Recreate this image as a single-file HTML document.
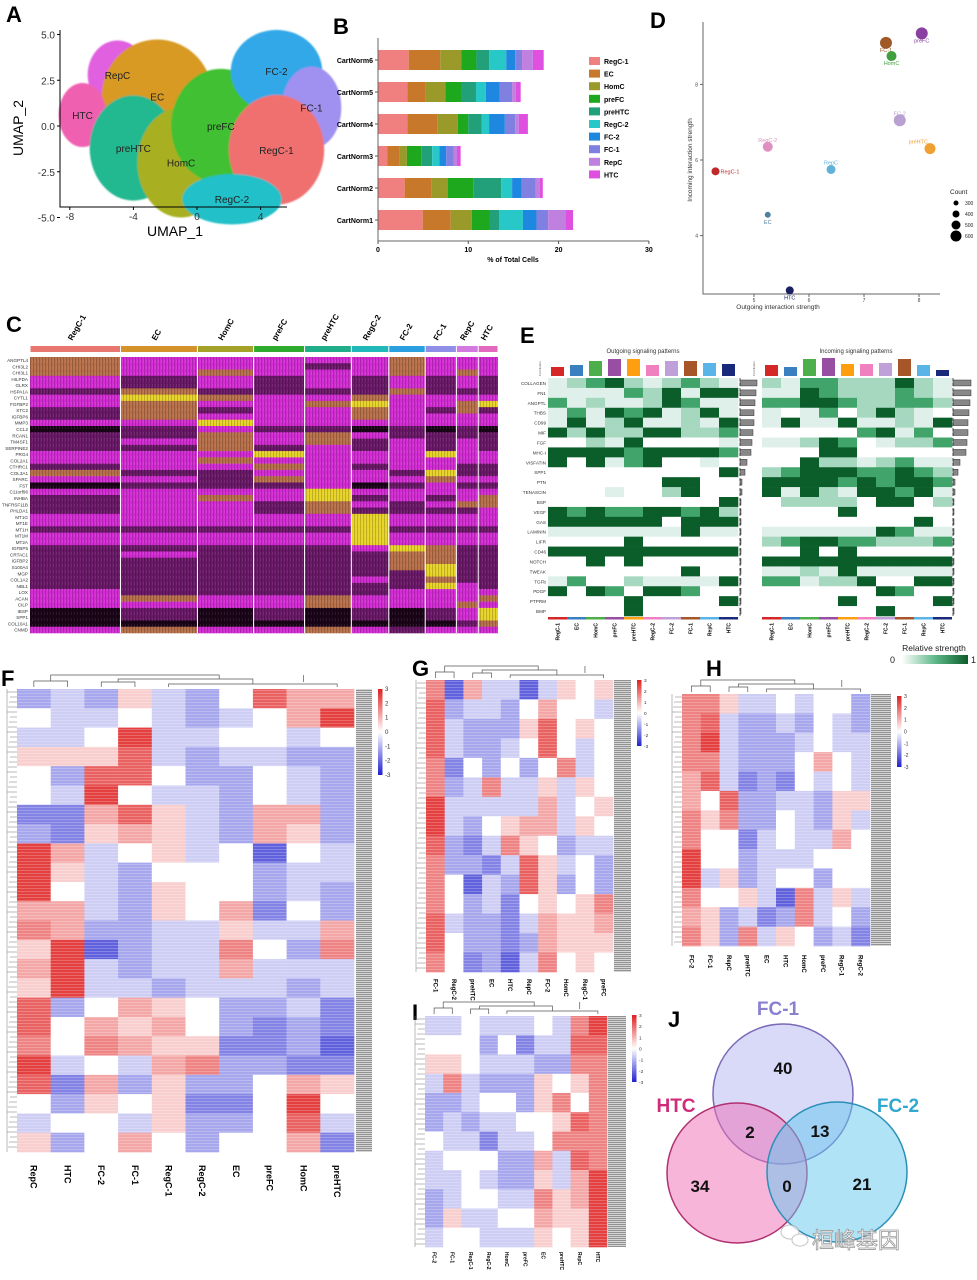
<!DOCTYPE html>
<html><head><meta charset="utf-8">
<style>
html,body{margin:0;padding:0;background:#fff;}
svg{display:block;font-family:"Liberation Sans","Noto Sans CJK SC",sans-serif;}
.pl{font-size:22px;font-weight:bold;}
</style></head>
<body>
<svg id="fig" xmlns="http://www.w3.org/2000/svg" width="977" height="1280" viewBox="0 0 977 1280">
<defs>
<pattern id="vstripe" width="3" height="6" patternUnits="userSpaceOnUse"><rect x="0" y="0" width="1" height="6" fill="#000" opacity="0.18"/><rect x="2" y="0" width="1" height="3" fill="#fff" opacity="0.08"/></pattern>
<pattern id="hstripe" width="10" height="3" patternUnits="userSpaceOnUse"><rect x="0" y="0" width="10" height="1" fill="#fff" opacity="0.22"/></pattern>
<pattern id="lblstripe" width="6" height="2" patternUnits="userSpaceOnUse"><rect width="6" height="1" fill="#777"/><rect y="1" width="6" height="1" fill="#ccc"/></pattern>
<linearGradient id="rbgrad" x1="0" y1="0" x2="0" y2="1"><stop offset="0" stop-color="#e02020"/><stop offset="0.5" stop-color="#ffffff"/><stop offset="1" stop-color="#2020d0"/></linearGradient>
<linearGradient id="ggrad" x1="0" y1="0" x2="1" y2="0"><stop offset="0" stop-color="#ffffff"/><stop offset="0.5" stop-color="#5fb88a"/><stop offset="1" stop-color="#0b5d2a"/></linearGradient>
<filter id="soft"><feGaussianBlur stdDeviation="0.9"/></filter>
</defs>
<text class="pl" x="6" y="22">A</text>
<text class="pl" x="333" y="34">B</text>
<text class="pl" x="650" y="28">D</text>
<text class="pl" x="6" y="332">C</text>
<text class="pl" x="520" y="343">E</text>
<text class="pl" x="1" y="686">F</text>
<text class="pl" x="412" y="676">G</text>
<text class="pl" x="706" y="676">H</text>
<text class="pl" x="412" y="1020">I</text>
<text class="pl" x="668" y="1027">J</text>
<g id="gA"></g>
<g id="gB"></g>
<g id="gD"></g>
<g id="gC"></g>
<g id="gE"></g>
<g id="gF"></g>
<g id="gG"></g>
<g id="gH"></g>
<g id="gI"></g>
<g id="gJ"></g>
</svg>
<script>
// ---------- Panel A data ----------
const umapClusters = ["RepC","EC","HTC","preHTC","HomC","preFC","FC-2","FC-1","RegC-1","RegC-2"];
const umapCx = [-5,-2.5,-7.2,-4,-1,1.5,5,7.2,5,2.2];
const umapCy = [2.8,1.6,0.6,-1.2,-2,0,3,1,-1.3,-4];
const umapRx = [1.5,2.8,1.2,2.2,2.2,2.5,2.3,1.5,2.4,2.5];
const umapRy = [1.5,2.5,1.4,2.3,2.4,2.5,1.8,1.8,2.4,1.1];
const umapColors = ["#e060e0","#d89a20","#f060b0","#20b890","#a8b020","#40c030","#30a8e8","#a090f0","#f07070","#20c0c8"];
const umapXTicks = [-8,-4,0,4];
const umapYTicks = ["5.0","2.5","0.0","-2.5","-5.0"];
// ---------- Panel B data ----------
const bSamples = ["CartNorm6","CartNorm5","CartNorm4","CartNorm3","CartNorm2","CartNorm1"];
const bCellTypes = ["RegC-1","EC","HomC","preFC","preHTC","RegC-2","FC-2","FC-1","RepC","HTC"];
const bColors = ["#f08080","#c8782a","#9a9a2a","#1ea81e","#22a07a","#28c8c8","#1e88e0","#8080e0","#c080e0","#e050e0"];
const bRegC1 = [3.4,3.25,3.25,1.05,2.95,4.95];
const bEC = [3.5,2.0,3.3,1.35,3.0,3.1];
const bHomC = [2.35,2.2,2.3,0.8,1.8,2.35];
const bPreFC = [1.65,1.8,1.15,1.6,2.8,1.95];
const bPreHTC = [1.4,1.6,1.5,1.2,3.1,1.05];
const bRegC2 = [1.9,1.1,0.8,0.8,1.2,2.65];
const bFC2 = [1.0,1.5,1.75,0.75,1.05,1.5];
const bFC1 = [0.75,1.4,1.15,0.85,1.55,1.3];
const bRepC = [1.2,0.4,0.4,0.35,0.45,1.9];
const bHTC = [1.2,0.55,1.0,0.4,0.35,0.85];
const bXTicks = [0,10,20,30];
// ---------- Panel D data ----------
const dCells = ["RegC-1","RegC-2","EC","HTC","RepC","FC-1","HomC","preFC","FC-2","preHTC"];
const dOutgoing = [4.3,5.25,5.25,5.65,6.4,7.4,7.5,8.05,7.65,8.2];
const dIncoming = [5.7,6.35,4.55,2.55,5.75,9.1,8.75,9.35,7.05,6.3];
const dCount = [350,450,250,350,400,550,450,550,550,500];
const dColors = ["#c0282a","#e090c0","#5080a0","#1a2060","#60b0d8","#a05a28","#40a040","#8a40a0","#b8a0d0","#f0a030"];
const dXTicks = [5,6,7,8];
const dYTicks = [4,6,8];
const dLegendCounts = [300,400,500,600];
// ---------- Panel C data ----------
const cGroups = ["RegC-1","EC","HomC","preFC","preHTC","RegC-2","FC-2","FC-1","RepC","HTC"];
const cGroupColors = ["#e8776f","#d4932a","#a5a22a","#2eaa2e","#20ae8a","#20b8b8","#2aa0e0","#8f8fe8","#d27ae0","#e268c0"];
const cGroupSizes = [87,74,54,49,45,36,35,30,21,19];
const cGenes = ["ANGPTL4","CHI3L2","CHI3L1","HILPDA","GLRX","HSPA1A","CYTL1","FGFBP2","STC2","IGFBP6","MMP3","CCL2","RCAN1","TM4SF1","SERPINE2","PRG4","COL2A1","CTHRC1","COL3A1","SPARC","FST","C11orf96","INHBA","TNFRSF11B","PHLDA1","MT1G","MT1E","MT1H","MT1M","MT2A","IGFBP5","CRTAC1","IGFBP2","S100A4","MGP","COL1A2","NBL1","LOX","ACAN","CILP","IBSP","SPP1","COL10A1","CNMD"];
const cLevels = ["3222223222","3222123222","3232223232","2121212121","2121212121","1311113111","2432232222","2322342234","1312232131","1322232222","2242222222","0121101010","1132321111","1232312121","1131212121","2224222422","2232222222","1223212211","3112221411","2213222322","0111201211","2222422222","1232412123","1221321233","1221311112","2222242222","2222242222","1111141111","2222242222","2222242222","1111124311","1211113311","1111113311","1111113411","1111111411","1111121311","1111111421","2111112222","2322322223","2222322232","0101010124","0101010124","0000000013","2322321222"];
const cPalette = ["#1a0418","#6a1868","#d42cd4","#b8704a","#e8d428"];
// ---------- Panel E data ----------
const eGroups = ["RegC-1","EC","HomC","preFC","preHTC","RegC-2","FC-2","FC-1","RepC","HTC"];
const eGroupColors = ["#d62728","#3a7fc0","#4daf4a","#984ea3","#ff9f10","#f080c0","#c0a0d8","#a65628","#5ab4e8","#1a2a7a"];
const ePathways = ["COLLAGEN","FN1","ANGPTL","THBS","CD99","MIF","FGF","MHC-I","VISFATIN","SPP1","PTN","TENASCIN","BSP","VEGF","GAS","LAMININ","LIFR","CD46","NOTCH","TWEAK","TGFb","PDGF","PTPRM","BMP"];
const eOut = ["1234212321","1111324144","3121124311","1314341241","1412411214","4242244223","0021400001","4444344443","4041340010","0000000004","0000004400","0001002400","0000000004","4343344342","4444440444","1111111411","0000400000","4444444444","0040400000","0000000400","1300211114","4043044300","0000400004","0000400000"];
const eIn = ["2133222421","1143222321","3344322332","1013024210","1411411214","0000034130","1124301223","0004400000","0042212311","2344433432","4444343443","4142144341","0222204402","0000400000","0000000040","1111114311","2344332223","0040400000","4444444444","1121411111","3312240044","0000004300","0000400004","0000004000"];
const eOutTop = [9,11,15,17,17,11,15,15,13,12];
const eInTop = [11,9,17,18,12,12,13,17,11,6];
const eOutSide = [17,16,15,14,14,13,12,11,7,5,2,2,1,1,1,1,1,1,1,1,1,1,1,1];
const eInSide = [18,18,17,16,15,15,14,13,7,5,2,2,1,1,1,1,1,1,1,1,1,1,1,1];
const ePalette = ["#ffffff","#dff0ea","#a6d8c0","#41a46a","#0b5d2a"];
// ---------- Panels F,G,H,I data ----------
const fCols = ["RepC","HTC","FC-2","FC-1","RegC-1","RegC-2","EC","preFC","HomC","preHTC"];
const fValues = [
[-1,-0.5,-1,0.5,-0.5,-1,0,2,1,1],[0,-0.5,-0.5,0,-0.5,-1,-0.5,0,1,2.5],[-0.5,-0.5,0,2.5,-0.5,-0.5,0,0,-0.5,0],
[0.5,0.5,0.5,2,-0.5,-1,-0.5,-0.5,-1,-1],[0,-1,2,2,0,-1,-1,0,-0.5,-1],[0,-0.5,2.5,0,-0.5,-0.5,-1,0,-0.5,-1],
[-1.5,-1.5,1,2,0.5,-0.5,-1,1,1,-1],[-1,-1.5,0.5,1,0.5,-0.5,-1,1,0.5,-1],[2.5,1,-0.5,0,0.5,-0.5,0,-2,0,-0.5],
[2.5,0.5,-0.5,-1,0,0,0,-1,-0.5,-0.5],[2.5,0,-0.5,-1,0.5,0,0,-1,-0.5,-1],[1,1,-0.5,-1,0.5,0,1,-1.5,0,-1],
[1.5,1,-1,-1,-0.5,-0.5,0.5,-0.5,-0.5,1],[0.5,2.5,-2,-1,-0.5,-0.5,1.5,0,-1,1.5],[1,2.5,-0.5,-1,-0.5,-0.5,1,-0.5,-0.5,-0.5],
[0.5,2.5,-0.5,-0.5,-1,-0.5,-0.5,-0.5,-1,-0.5],[2,-1,0,1,0.5,0,-1,-1,-0.5,-1.5],[2,0,1,0.5,1,0,-1,-1.5,-1,-1.5],
[1.5,0,1.5,1,0.5,0.5,-1.5,-1.5,-1,-2],[2.5,-0.5,0,-0.5,1,1.5,-1,-1,-1.5,-1.5],[2,-1.5,1,-1,0.5,-1,-1,0,1,0.5],
[0,-1,0.5,0,0.5,-1.5,-1.5,0,2.5,0],[-0.5,0,0,-0.5,0.5,-1,-1,0,2,-0.5],[0.5,-1,0,1,0,-1,0,0,1,-1.5]];
const gCols = ["FC-1","RegC-2","preHTC","EC","HTC","RepC","FC-2","HomC","RegC-1","preFC"];
const gValues = [
[1.5,-2,1,-0.5,-0.5,-2,-0.5,0.5,0,0.5],[2,-1,-0.5,-0.5,-1,0,1,0,0,-0.5],[2,-0.5,-1,-1,-1,0.5,2,0,0.5,0],
[2,-0.5,-1,-1,-0.5,0,2,0,-0.5,0],[1.5,-1.5,0,-1,0,-1,0,1.5,-0.5,0],[1.5,-1,-0.5,1.5,-0.5,-0.5,0.5,-0.5,0.5,0],
[2.5,-0.5,-0.5,-0.5,-0.5,-0.5,1,-0.5,0,0.5],[2.5,-0.5,-1,0,0.5,1,1,-0.5,0.5,0],[2,-1,-1.5,-0.5,1.5,0.5,0,-1,-0.5,-0.5],
[1.5,-1,-1,-1.5,-0.5,2,0.5,-0.5,0,-1],[1.5,0,-2,-0.5,-1,2,0.5,-1,0,-1],[1.5,0,-1,-0.5,-1.5,0,0.5,0,0.5,1.5],
[2,-0.5,-1,-1,-1.5,-0.5,1,0.5,0.5,1],[2,0,-1,-1,-1.5,-1,1,0.5,0.5,0.5],[1.5,0,-1.5,-1,-2,-0.5,1.5,0,0.5,0]];
const hCols = ["FC-2","FC-1","RepC","preHTC","EC","HTC","HomC","preFC","RegC-1","RegC-2"];
const hValues = [
[1.5,1.5,0.5,-0.5,-0.5,0,-0.5,0,0,-1],[1.5,2,-0.5,-1,-1,-0.5,-1,0,-0.5,-1],[1.5,2.5,-0.5,-1,-1,-1,-0.5,0,-0.5,-0.5],
[1.5,1.5,-0.5,-1,-1,-1,0,1,0,-0.5],[1,2,-0.5,-1.5,-1,-1.5,0,-0.5,0,-0.5],[1,0,2,-1,-1,-0.5,-0.5,-1,0.5,0.5],
[1.5,0.5,1.5,-1,-1,0,-0.5,-1,0.5,-0.5],[1.5,0,0,-1.5,-0.5,0,-0.5,-0.5,1,0],[2.5,0,0,-1,-0.5,-0.5,-0.5,0,0,0],
[2.5,-0.5,0.5,-1,-0.5,0,0,-1,0,0],[1.5,0,0,0.5,-0.5,-2,1.5,-0.5,0.5,-0.5],[1,0.5,-1,-0.5,-1.5,-1,1.5,-0.5,0,-1],
[1.5,0.5,-1,1.5,-0.5,0.5,0,-1,-0.5,-1.5]];
const iCols = ["FC-2","FC-1","RegC-1","RegC-2","HomC","preFC","EC","preHTC","RepC","HTC"];
const iValues = [
[-0.5,-0.5,0,-0.5,-0.5,-0.5,0,-0.5,1.5,2.5],[0,0,0,-1,0,-1.5,-0.5,-0.5,2,2],[0.5,0.5,0,-0.5,-0.5,-0.5,-1,-1,1.5,1.5],
[-0.5,1.5,-0.5,-1,-1,-1,0.5,0,0.5,1.5],[-1,-1,-0.5,0,0,-1,0.5,1.5,0,1.5],[-1,-0.5,-1,-0.5,-0.5,0,0,0.5,2,1.5],
[0,-0.5,-0.5,-1.5,-0.5,-0.5,0,1.5,1.5,1.5],[-0.5,0,0,0,-1,-1,1,-0.5,2,1.5],[-0.5,-0.5,0,-0.5,-1,-1,0.5,-0.5,1,2.5],
[-1,-0.5,0,0,-0.5,-0.5,1.5,0.5,1,2.5],[-1,0.5,-0.5,-0.5,0,0,1,0.5,0.5,2.5],[-0.5,0,0,-0.5,-0.5,-0.5,0.5,0,0.5,2.5]];
const legendTicks = [3,2,1,0,-1,-2,-3];
// ---------- Panel J data ----------
const vennSets = ["FC-1","HTC","FC-2"];
const vennCounts = [40,34,21,2,13,0];

// ---------- helpers ----------
const NS="http://www.w3.org/2000/svg";
function mk(tag,attrs,parent){const e=document.createElementNS(NS,tag);for(const k in attrs)e.setAttribute(k,attrs[k]);parent.appendChild(e);return e;}
function txt(str,attrs,parent){const e=mk('text',attrs,parent);e.textContent=str;return e;}
function lerp(a,b,t){return Math.round(a+(b-a)*t);}
function rb(v){let t=Math.max(-1,Math.min(1,v/3));const s0=Math.sign(t)*Math.pow(Math.abs(t),0.85);t=s0;if(t>=0)return `rgb(${lerp(255,224,t)},${lerp(255,32,t)},${lerp(255,32,t)})`;const s=-t;return `rgb(${lerp(255,32,s)},${lerp(255,32,s)},${lerp(255,208,s)})`;}

// ---------- Panel A ----------
(function(){
const g=document.getElementById('gA');
const sx=x=>197+x*15.9, sy=y=>126-y*18.3;
const K=1.25;
const cl=mk('g',{filter:'url(#soft)'},g);


umapClusters.forEach((n,i)=>{
 const e=mk('ellipse',{cx:sx(umapCx[i]),cy:sy(umapCy[i]),rx:umapRx[i]*15.9*K,ry:umapRy[i]*18.3*K,fill:umapColors[i]},cl);
 
 
});
umapClusters.forEach((n,i)=>{
 const t=txt(n,{x:sx(umapCx[i]),y:sy(umapCy[i])+4,'font-size':10,'text-anchor':'middle',fill:'#222'},g);
 
 
});
const ax=mk('path',{d:'M60 30 V207 H287',stroke:'#000','stroke-width':1,fill:'none'},g);


umapXTicks.forEach(v=>{
 mk('line',{x1:sx(v),x2:sx(v),y1:207,y2:210,stroke:'#000'},g);
 const t=txt(String(v),{x:sx(v),y:220,'font-size':10,'text-anchor':'middle',fill:'#333'},g);
 
 
});
umapYTicks.forEach(v=>{
 const y=sy(parseFloat(v));
 mk('line',{x1:57,x2:60,y1:y,y2:y,stroke:'#000'},g);
 const t=txt(v,{x:55,y:y+4,'font-size':10,'text-anchor':'end',fill:'#333'},g);
 
 
});
const xt=txt('UMAP_1',{x:175,y:236,'font-size':14,'text-anchor':'middle'},g);


const yt=txt('UMAP_2',{x:0,y:0,'font-size':14,'text-anchor':'middle',transform:'translate(23,128) rotate(-90)'},g);


})();

// ---------- Panel B ----------
(function(){
const g=document.getElementById('gB');
const sx=v=>378+v*9.03;
const series=[bRegC1,bEC,bHomC,bPreFC,bPreHTC,bRegC2,bFC2,bFC1,bRepC,bHTC];
bSamples.forEach((s,i)=>{
 const cy=60+i*32;
 let acc=0;
 series.forEach((arr,k)=>{
  const r=mk('rect',{x:sx(acc),y:cy-10,width:arr[i]*9.03,height:20,fill:bColors[k]},g);
  
  
  acc+=arr[i];
 });
 mk('line',{x1:375,x2:378,y1:cy,y2:cy,stroke:'#555'},g);
 const t=txt(s,{x:373,y:cy+3,'font-size':7,'font-weight':'bold','text-anchor':'end'},g);
 
 
});
mk('path',{d:'M378 38 V241 H649',stroke:'#666','stroke-width':1,fill:'none'},g);
bXTicks.forEach(v=>{
 mk('line',{x1:sx(v),x2:sx(v),y1:241,y2:244,stroke:'#555'},g);
 const t=txt(String(v),{x:sx(v),y:252,'font-size':7,'font-weight':'bold','text-anchor':'middle'},g);
 
 
});
const xt=txt('% of Total Cells',{x:513,y:262,'font-size':7,'font-weight':'bold','text-anchor':'middle'},g);


bCellTypes.forEach((c,k)=>{
 const y=61+k*12.6;
 const r=mk('rect',{x:589,y:y-4,width:11,height:8,fill:bColors[k]},g);
 
 
 const t=txt(c,{x:604,y:y+3,'font-size':7,'font-weight':'bold'},g);
 
 
});
})();

// ---------- Panel D ----------
(function(){
const g=document.getElementById('gD');
const sx=v=>754+(v-5)*55, sy=v=>160-(v-6)*37.8;
const rr=c=>0.01*c+0.5;
mk('path',{d:'M703 22 V294 H940',stroke:'#666','stroke-width':1,fill:'none'},g);
dXTicks.forEach(v=>{
 mk('line',{x1:sx(v),x2:sx(v),y1:294,y2:297,stroke:'#666'},g);
 const t=txt(String(v),{x:sx(v),y:302,'font-size':5,'text-anchor':'middle',fill:'#444'},g);
 
 
});
dYTicks.forEach(v=>{
 mk('line',{x1:700,x2:703,y1:sy(v),y2:sy(v),stroke:'#666'},g);
 const t=txt(String(v),{x:698,y:sy(v)+2,'font-size':5,'text-anchor':'end',fill:'#444'},g);
 
 
});
dCells.forEach((n,i)=>{
 const c=mk('circle',{cx:sx(dOutgoing[i]),cy:sy(dIncoming[i]),r:rr(dCount[i]),fill:dColors[i]},g);
 
 
 const lx=n==='RegC-1'?sx(dOutgoing[i])+5:sx(dOutgoing[i]);
 const ly=(n==='RegC-2'||n==='RepC'||n==='FC-2'||n==='preHTC')?sy(dIncoming[i])-5:(n==='RegC-1'?sy(dIncoming[i])+2:sy(dIncoming[i])+9);
 const anc=n==='RegC-1'?'start':(n==='preHTC'?'end':'middle');
 const t=txt(n,{x:n==='preHTC'?lx-2:lx,y:ly,'font-size':5.5,'text-anchor':anc,fill:dColors[i]},g);
 
 
});
const xt=txt('Outgoing interaction strength',{x:778,y:309,'font-size':6.5,'text-anchor':'middle',fill:'#333'},g);


const yt=txt('Incoming interaction strength',{x:0,y:0,'font-size':6.5,'text-anchor':'middle',fill:'#333',transform:'translate(692,160) rotate(-90)'},g);


const lt=txt('Count',{x:950,y:194,'font-size':6.5,fill:'#222'},g);


dLegendCounts.forEach((c,k)=>{
 const y=203+k*11;
 const cc=mk('circle',{cx:956,cy:y,r:rr(c)-1,fill:'#000'},g);
 
 
 const t=txt(String(c),{x:965,y:y+2,'font-size':5,fill:'#222'},g);
 
 
});
})();

// ---------- Panel C ----------
(function(){
const g=document.getElementById('gC');
const total=cGroupSizes.reduce((a,b)=>a+b,0);
const x0=30,x1=498,y0=357,y1=633,rh=(y1-y0)/cGenes.length;
let x=x0;
cGroups.forEach((grp,k)=>{
 const w=(x1-x0)*cGroupSizes[k]/total;
 const bar=mk('rect',{x:x+0.5,y:346,width:w-1,height:6,fill:cGroupColors[k]},g);
 
 
 const lbl=txt(grp,{x:0,y:0,'font-size':8,'font-weight':'bold',transform:`translate(${x+w/2-3},341) rotate(-60)`},g);
 
 
 cGenes.forEach((gene,r)=>{
  const lv=+cLevels[r][k];
  const c=mk('rect',{x:x,y:y0+r*rh,width:w,height:rh+0.3,fill:cPalette[lv]},g);
  
  
 });
 x+=w;
});
mk('rect',{x:x0,y:y0,width:x1-x0,height:y1-y0,fill:'url(#vstripe)'},g);
x=x0;
cGroupSizes.forEach((s,k)=>{x+=(x1-x0)*s/total;if(k<cGroupSizes.length-1)mk('line',{x1:x,x2:x,y1:y0,y2:y1,stroke:'#fff','stroke-width':1},g);});
cGenes.forEach((gene,r)=>{
 const t=txt(gene,{x:28,y:y0+r*rh+rh*0.8,'font-size':4.6,'text-anchor':'end',fill:'#333'},g);
 
 
});
})();

// ---------- Panel E ----------
(function(){
const g=document.getElementById('gE');
const y0=378,rh=(616-378)/ePathways.length,cw=19;
function hm(x0,vals,tops,sides,sideX,title,titleX,name){
 const t=txt(title,{x:titleX,y:353,'font-size':6,'text-anchor':'middle',fill:'#333'},g);
 
 
 txt('Contribution',{x:0,y:0,'font-size':2.8,fill:'#555',transform:`translate(${x0-7},376) rotate(-90)`},g);
 eGroups.forEach((grp,k)=>{
  const b=mk('rect',{x:x0+k*cw+3,y:376-tops[k],width:cw-6,height:tops[k],fill:eGroupColors[k]},g);
  
  
  const cb=mk('rect',{x:x0+k*cw,y:617,width:cw,height:2.5,fill:eGroupColors[k]},g);
  
  
  const l=txt(grp,{x:0,y:0,'font-size':5,'font-weight':'bold','text-anchor':'end',transform:`translate(${x0+k*cw+cw/2+2},623) rotate(-90)`},g);
  
  
 });
 ePathways.forEach((p,r)=>{
  for(let k=0;k<10;k++){
   const c=mk('rect',{x:x0+k*cw,y:y0+r*rh,width:cw+0.3,height:rh+0.3,fill:ePalette[+vals[r][k]]},g);
   
   
  }
  const sb=mk('rect',{x:sideX,y:y0+r*rh+2,width:sides[r],height:rh-4,fill:'#888',stroke:'#333','stroke-width':0.5},g);
  
  
 });
 mk('line',{x1:sideX,x2:sideX,y1:y0,y2:616,stroke:'#333','stroke-width':0.8,'stroke-dasharray':'3,2'},g);
}
hm(548,eOut,eOutTop,eOutSide,740,'Outgoing signaling patterns',643,'outgoing');
hm(762,eIn,eInTop,eInSide,953,'Incoming signaling patterns',856,'incoming');
ePathways.forEach((p,r)=>{
 const t=txt(p,{x:546,y:y0+r*rh+rh*0.7,'font-size':4.6,'text-anchor':'end',fill:'#333'},g);
 
 
});
const lt=txt('Relative strength',{x:934,y:651,'font-size':8.5,'text-anchor':'middle',fill:'#222'},g);


const lb=mk('rect',{x:902,y:655,width:66,height:9,fill:'url(#ggrad)'},g);


txt('0',{x:890,y:663,'font-size':9,fill:'#222'},g);
txt('1',{x:971,y:663,'font-size':9,fill:'#222'},g);
})();

// ---------- Panels F,G,H,I ----------
function redBlue(gid,cols,vals,x0,x1,y0,y1,lblX,lblW,legX,legY,legH,colY,fs,name){
 const g=document.getElementById(gid);
 const cw=(x1-x0)/cols.length, rh=(y1-y0)/vals.length;
 vals.forEach((row,r)=>row.forEach((v,k)=>{
  const c=mk('rect',{x:x0+k*cw,y:y0+r*rh,width:cw+0.3,height:rh+0.3,fill:rb(v)},g);
  
  
 }));
 mk('rect',{x:x0,y:y0,width:x1-x0,height:y1-y0,fill:'url(#hstripe)'},g);
 const lb=mk('rect',{x:lblX,y:y0,width:lblW,height:y1-y0,fill:'url(#lblstripe)',opacity:0.8},g);
 
 
 const top=mk('path',{d:`M${x0+cw/2} ${y0-2} V${y0-8} H${x0+cw*1.5} V${y0-2} M${x0+cw} ${y0-8} V${y0-14} H${x0+cw*6} V${y0-10} M${x0+cw*2.5} ${y0-2} V${y0-7} H${x0+cw*3.5} V${y0-2} M${x0+cw*3} ${y0-7} V${y0-10} H${x0+cw*7} V${y0-5} M${x0+cw*4.5} ${y0-2} V${y0-5} H${x0+cw*9.5} V${y0-2} M${x0+cw*8.5} ${y0-14} V${y0-7}`,stroke:'#555','stroke-width':0.7,fill:'none'},g);
 
 
 let d=`M${x0-10} ${y0} V${y1}`;
 for(let y=y0+3;y<y1;y+=5)d+=` M${x0-10+((y*7)%4)} ${y} H${x0}`;
 const left=mk('path',{d:d,stroke:'#777','stroke-width':0.5,fill:'none'},g);
 
 
 cols.forEach((c,k)=>{
  const t=txt(c,{x:0,y:0,'font-size':fs,'font-weight':'bold',transform:`translate(${x0+k*cw+cw/2-fs*0.35},${colY}) rotate(90)`},g);
  
  
 });
 const leg=mk('rect',{x:legX,y:legY,width:4.5,height:legH,fill:'url(#rbgrad)'},g);
 
 
 legendTicks.forEach((v,k)=>{
  const t=txt(String(v),{x:legX+7,y:legY+k*legH/6+2,'font-size':Math.max(3.5,legH/14),fill:'#333'},g);
  
  
 });
}
redBlue('gF',fCols,fValues,17,354,689,1152,356,16,378,689,86,1165,9,'f');
redBlue('gG',gCols,gValues,426,613,680,972,614,17,637,680,66,979,6,'g');
redBlue('gH',hCols,hValues,682,870,694,946,871,20,897,696,71,955,6,'h');
redBlue('gI',iCols,iValues,425,607,1016,1247,608,18,632,1015,67,1252,5,'i');

// ---------- Panel J ----------
(function(){
const g=document.getElementById('gJ');
const circ=[[783,1094,'rgba(170,170,240,0.45)','#7a6ab8'],[737,1173,'rgba(240,110,180,0.5)','#b03070'],[837,1172,'rgba(100,200,240,0.5)','#2a90b8']];
circ.forEach((c,k)=>{
 const e=mk('circle',{cx:c[0],cy:c[1],r:70,fill:c[2],stroke:c[3],'stroke-width':1.5},g);
 
 
});
const setLbl=[[778,1015,'#8a80d0'],[676,1112,'#d02a78'],[898,1112,'#30a8d0']];
vennSets.forEach((s,k)=>{
 const t=txt(s,{x:setLbl[k][0],y:setLbl[k][1],'font-size':19,'font-weight':'bold','text-anchor':'middle',fill:setLbl[k][2]},g);
 
 
});
const pos=[[783,1074],[700,1192],[862,1190],[750,1138],[820,1137],[787,1192]];
vennCounts.forEach((n,k)=>{
 const t=txt(String(n),{x:pos[k][0],y:pos[k][1],'font-size':17,'font-weight':'bold','text-anchor':'middle',fill:'#111'},g);
 
 
});
const ic=mk('g',{opacity:0.7},g);


mk('ellipse',{cx:790,cy:1232,rx:9,ry:7,fill:'#fff',stroke:'#aaa'},ic);
mk('ellipse',{cx:800,cy:1240,rx:8,ry:6,fill:'#fff',stroke:'#aaa'},ic);
const wm=txt('桓峰基因',{x:812,y:1248,'font-size':22,fill:'#fff',stroke:'#999','stroke-width':0.8},g);


})();
</script>
</body></html>
